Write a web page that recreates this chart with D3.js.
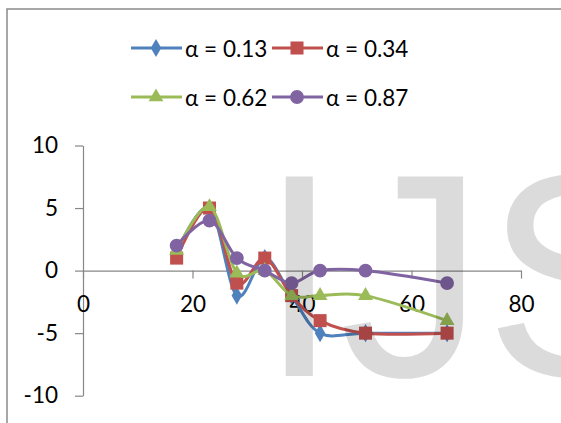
<!DOCTYPE html>
<html>
<head>
<meta charset="utf-8">
<script src="https://cdn.jsdelivr.net/npm/d3@7"></script>
<style>
  html, body { margin: 0; padding: 0; background: #fff; }
  svg { display: block; }
  text { font-family: Lato, "Liberation Sans", sans-serif; }
</style>
</head>
<body>
<script>
// Measured x positions shared by all series
const xValues = [17.1, 23.1, 28.1, 33.2, 38.1, 43.3, 51.6, 66.5];

// One array per alpha setting
const seriesA013 = [1.5, 5, -2, 1, -2, -5, -5, -5];
const seriesA034 = [1, 5, -1, 1, -2, -4, -5, -5];
const seriesA062 = [1.6, 5.1, -0.2, 0, -2, -2, -2, -4];
const seriesA087 = [2, 4, 1, 0, -1, 0, 0, -1];

const seriesLabels = ["α = 0.13", "α = 0.34", "α = 0.62", "α = 0.87"];
const seriesColors = ["#4F81BD", "#C0504D", "#9BBB59", "#8064A2"];
const seriesSymbols = [d3.symbolDiamond, d3.symbolSquare, d3.symbolTriangle, d3.symbolCircle];
const seriesSymbolSizes = [95, 170, 95, 150];

const xTicks = [0, 20, 40, 60, 80];
const yTicks = [-10, -5, 0, 5, 10];

const W = 561, H = 423;
const svg = d3.select("body").append("svg").attr("width", W).attr("height", H);
svg.append("rect").attr("width", W).attr("height", H).attr("fill", "#fff");

// chart frame (runs off the right and bottom edges)
svg.append("rect")
  .attr("x", 7).attr("y", 9).attr("width", 620).attr("height", 500)
  .attr("fill", "none").attr("stroke", "#8a8a8a").attr("stroke-width", 1.5);

const x = d3.scaleLinear().domain([0, 80]).range([83, 521]);
const y = d3.scaleLinear().domain([-10, 10]).range([395.7, 145.5]);

const axisColor = "#878787";
const fontSize = 22.5;
const plainNumber = d => String(d);   // ASCII hyphen for negatives

// y axis
const gy = svg.append("g").attr("transform", `translate(${x(0)},0)`)
  .call(d3.axisLeft(y).tickValues(yTicks).tickSize(8).tickSizeOuter(0).tickPadding(17)
    .tickFormat(plainNumber));
// x axis across y = 0
const gx = svg.append("g").attr("transform", `translate(0,${y(0)})`)
  .call(d3.axisBottom(x).tickValues(xTicks).tickSize(8).tickSizeOuter(0).tickPadding(17)
    .tickFormat(plainNumber));

[gx, gy].forEach(g => {
  g.select(".domain").attr("stroke", axisColor).attr("stroke-width", 1.2);
  g.selectAll(".tick line").attr("stroke", axisColor).attr("stroke-width", 1.2);
  g.selectAll(".tick text").attr("fill", "#000").style("font-size", fontSize + "px")
    .style("font-family", "Lato, 'Liberation Sans', sans-serif");
});

// series lines and markers
const allSeries = [seriesA013, seriesA034, seriesA062, seriesA087];
const line = d3.line()
  .x((d, i) => x(xValues[i]))
  .y(d => y(d))
  .curve(d3.curveCardinal.tension(0));

allSeries.forEach((vals, s) => {
  const g = svg.append("g");
  g.append("path").datum(vals)
    .attr("d", line)
    .attr("fill", "none")
    .attr("stroke", seriesColors[s])
    .attr("stroke-width", 3)
    .attr("stroke-linejoin", "round");
  g.selectAll("path.marker").data(vals).enter().append("path")
    .attr("class", "marker")
    .attr("d", d3.symbol().type(seriesSymbols[s]).size(seriesSymbolSizes[s]))
    .attr("transform", (d, i) => `translate(${x(xValues[i])},${y(d)})`)
    .attr("fill", seriesColors[s]);
});

// legend: two rows of two entries
const legendPos = [[131, 48], [272, 48], [131, 97], [272, 97]];
seriesLabels.forEach((label, s) => {
  const [lx, ly] = legendPos[s];
  const g = svg.append("g").attr("transform", `translate(${lx},${ly})`);
  g.append("line").attr("x1", 0).attr("x2", 51).attr("y1", 0).attr("y2", 0)
    .attr("stroke", seriesColors[s]).attr("stroke-width", 3);
  g.append("path")
    .attr("d", d3.symbol().type(seriesSymbols[s]).size(seriesSymbolSizes[s]))
    .attr("transform", "translate(25,0)")
    .attr("fill", seriesColors[s]);
  g.append("text").attr("x", 54).attr("y", 8.5)
    .style("font-size", fontSize + "px").attr("fill", "#000")
    .text(label);
});

// translucent watermark lettering laid over the plot
svg.append("text")
  .attr("x", 259).attr("y", 376)
  .style("font-family", "'Liberation Sans', Arial, sans-serif")
  .style("font-size", "290px")
  .attr("fill", "#000").attr("fill-opacity", 0.14)
  .text("IJS");
</script>
</body>
</html>
